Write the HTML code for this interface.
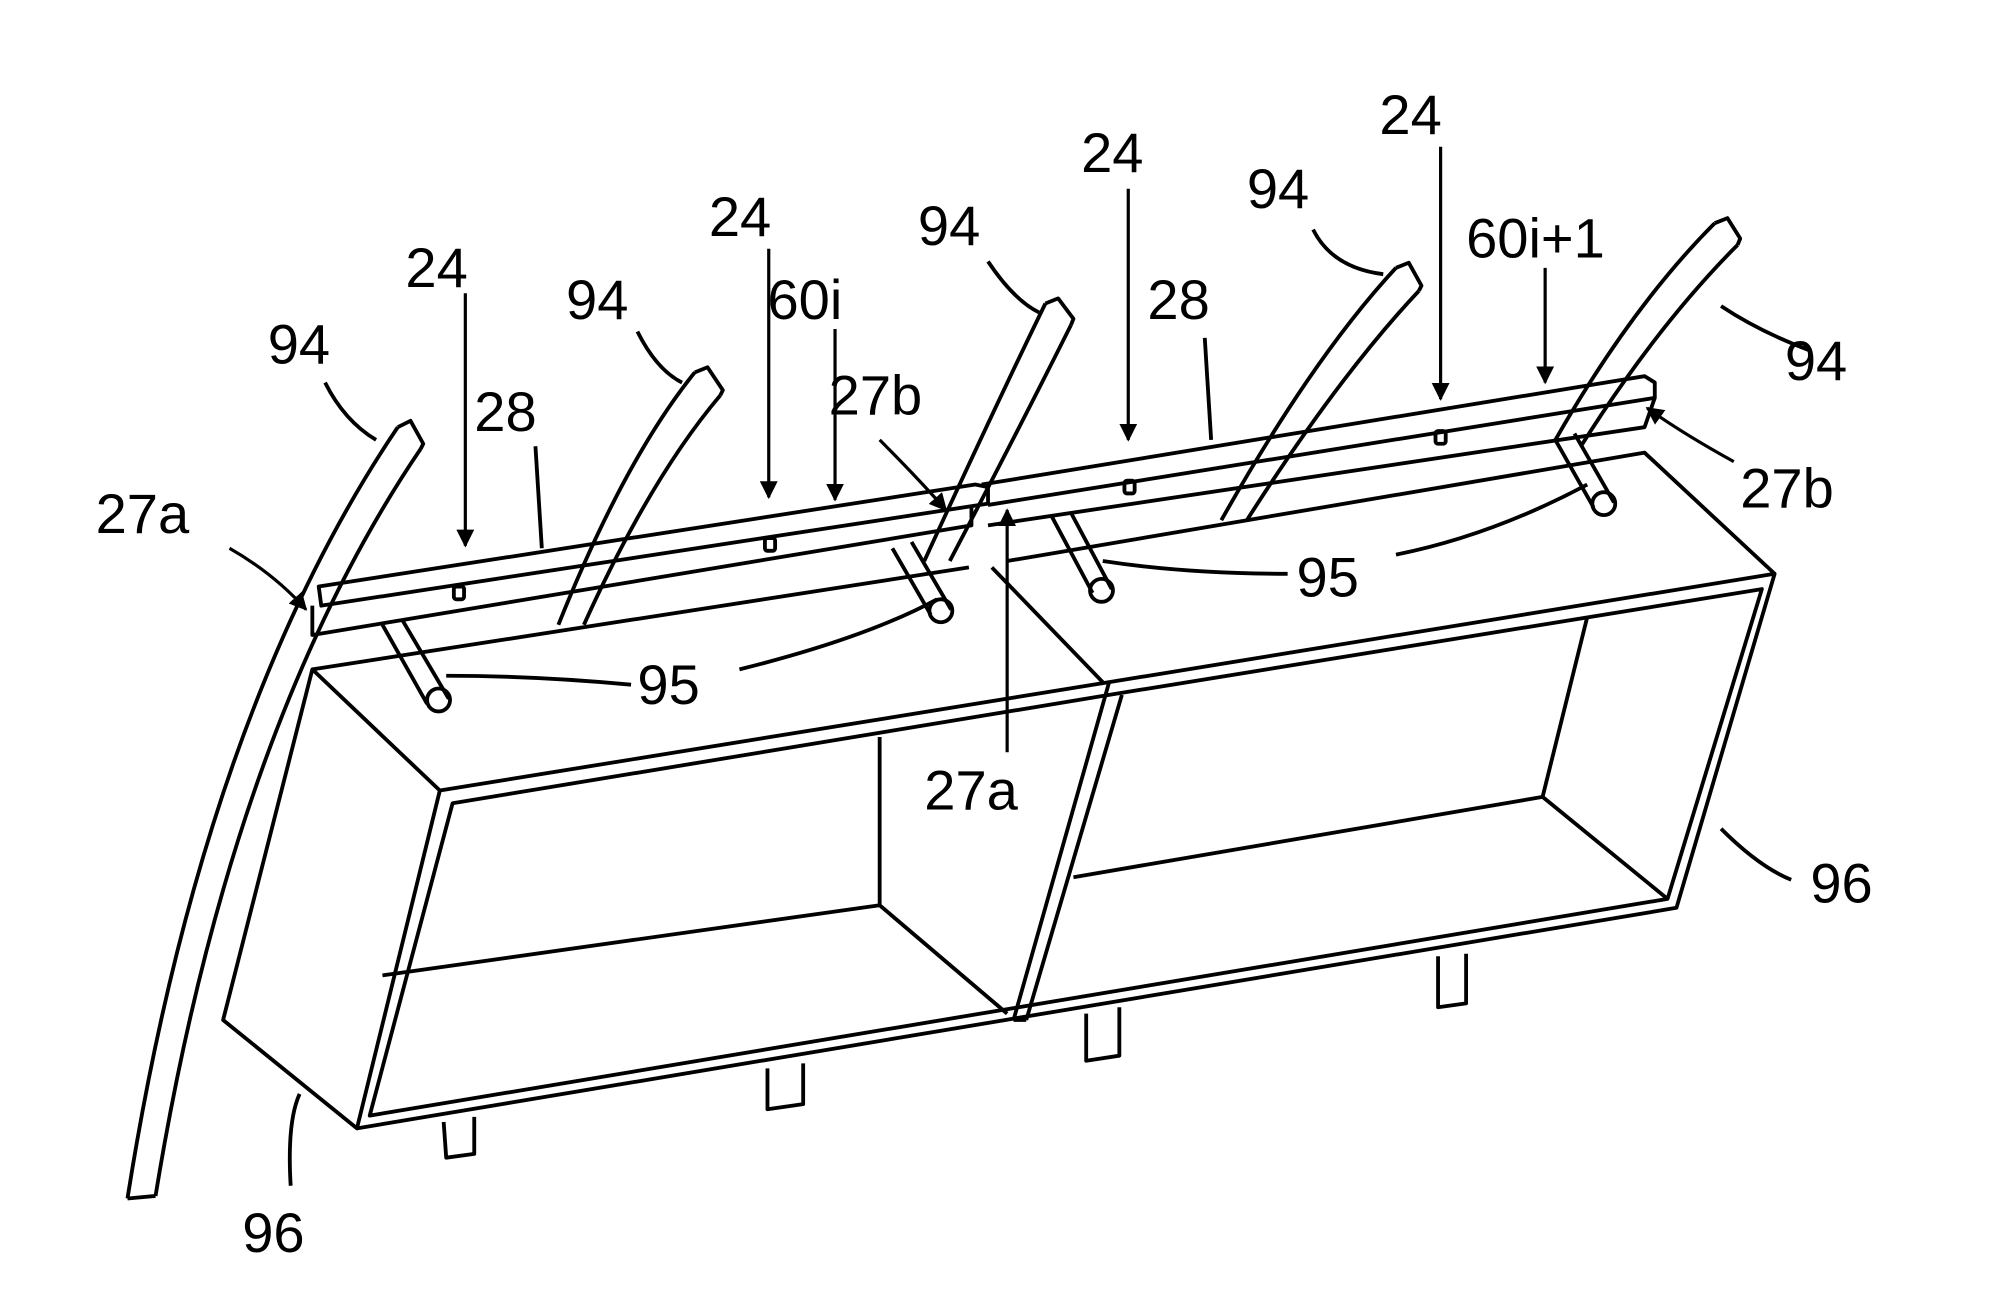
<!DOCTYPE html>
<html><head><meta charset="utf-8"><style>
html,body{margin:0;padding:0;background:#fff;}
svg{display:block;}
text{font-family:"Liberation Sans",sans-serif;font-size:44px;fill:#000;}
</style></head><body>
<svg width="1999" height="1298" viewBox="0 0 1568 1018" xmlns="http://www.w3.org/2000/svg">
<defs>
<marker id="a2" viewBox="0 0 10 10" markerWidth="14" markerHeight="14" refX="9" refY="5" orient="auto" markerUnits="userSpaceOnUse"><path d="M0,0 L10,5 L0,10 z" fill="#000"/></marker></defs>
<g fill="none" stroke="#000" stroke-width="3" stroke-linejoin="round">
<path d="M100,940 Q160,560 312,335"/>
<path d="M122,938 Q182,570 330,352"/>
<path d="M100,940 L122,938 M312,335 L322,330 L332,348 L330,352"/>
<path d="M438,490 Q490,360 545,292"/><path d="M458,490 Q510,375 565,310"/><path d="M545,292 L555,288 L567,306 L565,310"/>
<path d="M725,440 Q780,320 820,238"/><path d="M745,440 Q800,335 840,255"/><path d="M820,238 L830,234 L842,250 L840,255"/>
<path d="M958,408 Q1030,280 1095,210"/><path d="M978,408 Q1050,295 1113,228"/><path d="M1095,210 L1105,206 L1115,224 L1113,228"/>
<path d="M1220,345 Q1280,240 1345,175"/><path d="M1240,350 Q1300,255 1363,192"/><path d="M1345,175 L1355,171 L1365,187 L1363,192"/>
<path d="M250,460 L765,380 L775,382 L775,395 L252,475 Z"/>
<path d="M245,475 L245,498 L762,412 L762,398"/>
<path d="M770,380 L1290,295 L1298,300 L1298,312 L775,396"/>
<path d="M775,412 L1290,335 L1298,312"/>
<rect x="356" y="460" width="8" height="10" rx="2"/><rect x="600" y="422" width="8" height="10" rx="2"/><rect x="882" y="377" width="8" height="10" rx="2"/><rect x="1126" y="338" width="8" height="10" rx="2"/>
<path d="M300,490 L335,552 M316,487 L352,548"/><circle cx="344" cy="549" r="9"/>
<path d="M700,430 L730,482 M715,425 L746,478"/><circle cx="738" cy="479" r="9"/>
<path d="M825,405 L857,465 M840,402 L872,462"/><circle cx="864" cy="463" r="9"/>
<path d="M1220,345 L1250,398 M1235,340 L1266,394"/><circle cx="1258" cy="395" r="9"/>
<path d="M245,525 L175,800 L280,885 L345,620 Z"/>
<path d="M245,525 L760,445 M778,445 L865,535"/>
<path d="M790,440 L1290,355 L1392,450"/>
<path d="M345,620 L870,535 L1392,450 L1315,712 L280,885"/>
<path d="M355,630 L870,545 L1382,462 L1308,705 L290,875 Z"/>
<path d="M870,535 L795,800 M880,545 L805,800 M795,800 L805,800"/>
<path d="M300,765 L690,710 L690,578 M690,710 L790,795"/>
<path d="M842,688 L1210,625 L1245,484 M1210,625 L1308,705"/>
<path d="M348,880 L350,908 L372,905 L372,876"/>
<path d="M602,838 L602,870 L630,866 L630,834"/>
<path d="M852,795 L852,832 L878,828 L878,790"/>
<path d="M1128,750 L1128,790 L1150,787 L1150,748"/>
<path d="M255,300 Q270,330 295,345"/>
<path d="M500,260 Q515,290 535,300"/>
<path d="M775,205 Q795,235 815,245"/>
<path d="M1030,180 Q1045,210 1085,215"/>
<path d="M1420,275 Q1380,260 1350,240"/>
<path d="M420,350 L425,430"/><path d="M945,265 L950,345"/>
<path d="M495,537 Q420,530 350,530"/>
<path d="M580,525 Q680,500 735,470"/>
<path d="M1010,450 Q930,450 865,440"/>
<path d="M1095,435 Q1170,420 1245,380"/>
<path d="M228,930 Q225,880 235,858"/>
<path d="M1405,690 Q1380,680 1350,650"/>
</g>
<g stroke="#000" stroke-width="2.5" fill="none">
<line x1="365" y1="230" x2="365" y2="428" marker-end="url(#a2)"/>
<line x1="603" y1="195" x2="603" y2="390" marker-end="url(#a2)"/>
<line x1="885" y1="148" x2="885" y2="345" marker-end="url(#a2)"/>
<line x1="1130" y1="115" x2="1130" y2="313" marker-end="url(#a2)"/>
<line x1="655" y1="258" x2="655" y2="392" marker-end="url(#a2)"/>
<line x1="1212" y1="210" x2="1212" y2="300" marker-end="url(#a2)"/>
<path d="M180,430 Q215,450 240,478" marker-end="url(#a2)"/>
<path d="M690,345 Q720,375 742,400" marker-end="url(#a2)"/>
<path d="M790,590 L790,400" marker-end="url(#a2)"/>
<path d="M1360,362 Q1320,340 1292,320" marker-end="url(#a2)"/>
</g>
<text x="210" y="285">94</text><text x="444" y="250">94</text><text x="720" y="192">94</text><text x="978" y="163">94</text><text x="1400" y="298">94</text>
<text x="318" y="225">24</text><text x="556" y="185">24</text><text x="848" y="135">24</text><text x="1082" y="105">24</text>
<text x="372" y="338">28</text><text x="900" y="250">28</text>
<text x="602" y="250">60i</text><text x="1150" y="202">60i+1</text>
<text x="650" y="325">27b</text><text x="1365" y="398">27b</text>
<text x="75" y="418">27a</text><text x="725" y="635">27a</text>
<text x="500" y="552">95</text><text x="1017" y="468">95</text>
<text x="190" y="982">96</text><text x="1420" y="708">96</text>
</svg>
</body></html>
